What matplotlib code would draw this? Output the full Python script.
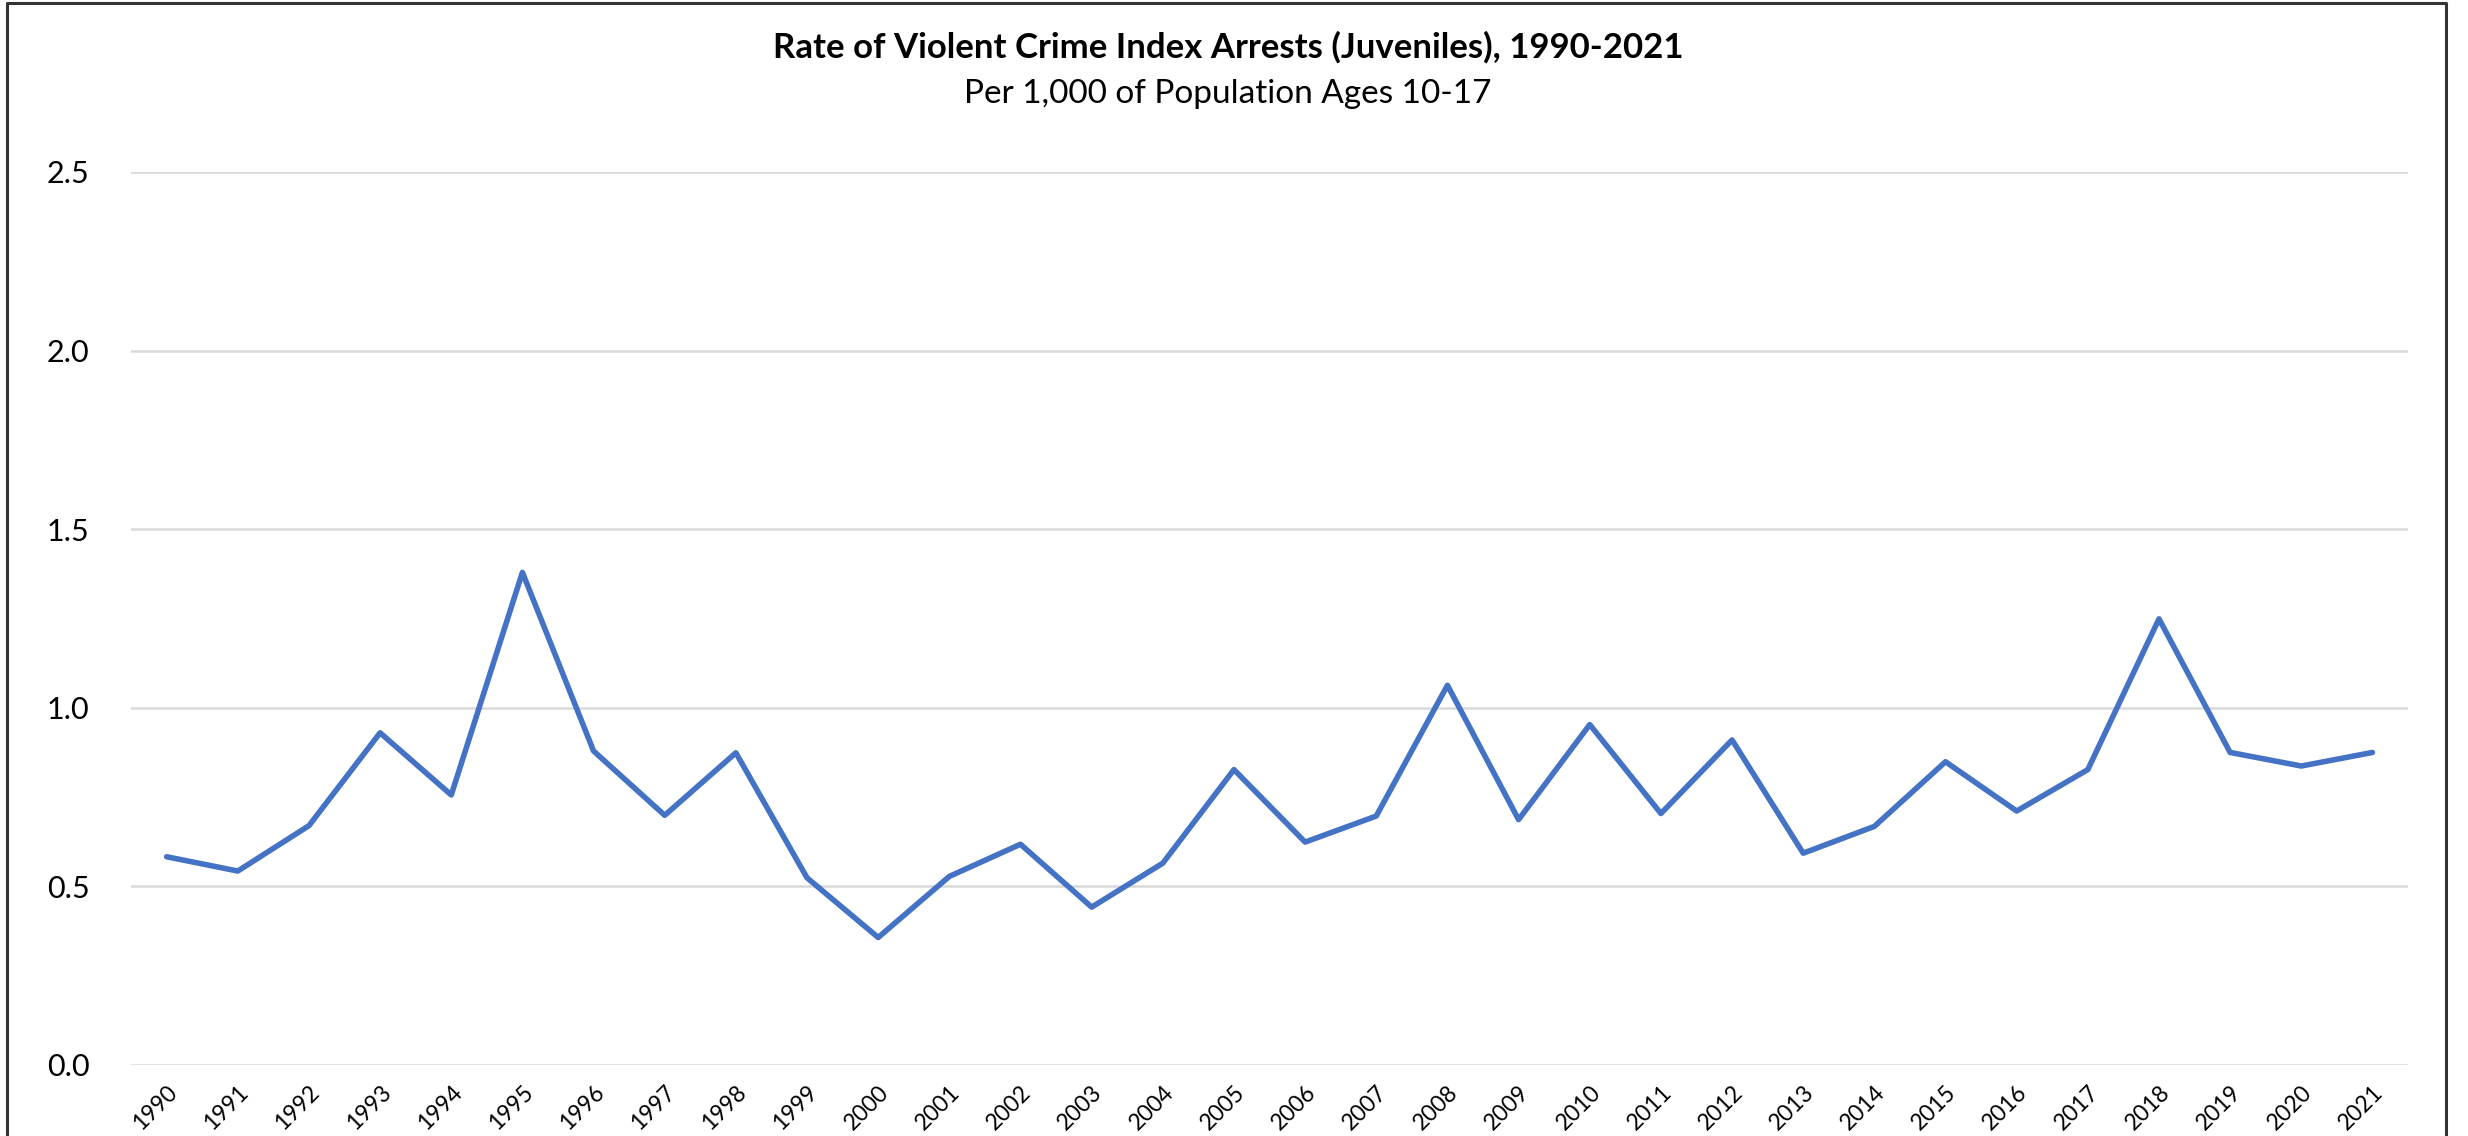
import matplotlib
matplotlib.use("Agg")
from matplotlib import pyplot as plt
from matplotlib.lines import Line2D

plt.rcParams['font.family'] = ['Lato', 'DejaVu Sans']

years = [str(y) for y in range(1990, 2022)]
rates = [0.583, 0.543, 0.670, 0.930, 0.756, 1.379, 0.879, 0.699, 0.874, 0.524,
         0.357, 0.528, 0.618, 0.442, 0.565, 0.827, 0.624, 0.697, 1.063, 0.687,
         0.953, 0.704, 0.910, 0.593, 0.668, 0.849, 0.711, 0.827, 1.249, 0.875,
         0.837, 0.875]
yticks = [0.0, 0.5, 1.0, 1.5, 2.0, 2.5]

fig = plt.figure(figsize=(24.68, 11.36), dpi=100)
ax = fig.add_axes([0.0531, 0.0625, 0.9226, 0.7861])

x = list(range(len(years)))
ax.plot(x, rates, color="#4472C4", lw=4.0, solid_joinstyle="round", solid_capstyle="round", zorder=3)

ax.set_xlim(-0.5, len(years) - 0.5)
ax.set_ylim(0, 2.5)
ax.set_yticks(yticks)
ax.set_yticklabels([f"{v:.1f}" for v in yticks], fontsize=22)
ax.set_xticks(x)
ax.set_xticklabels(years, rotation=45, ha="right", rotation_mode="anchor", fontsize=16.5)
ax.tick_params(axis="y", length=0, pad=30)
ax.tick_params(axis="x", length=0, pad=12)
ax.grid(axis="y", color="#D9D9D9", lw=1.8)
ax.set_axisbelow(True)
for s in ax.spines.values():
    s.set_visible(False)

fig.text(0.4976, 0.958, "Rate of Violent Crime Index Arrests (Juveniles), 1990-2021",
         ha="center", va="center", fontsize=25, fontweight="bold")
fig.text(0.4976, 0.917, "Per 1,000 of Population Ages 10-17",
         ha="center", va="center", fontsize=24)

# outer chart frame (left, top, right)
fig.add_artist(Line2D([0.003, 0.003, 0.991, 0.991], [0.0, 0.997, 0.997, 0.0],
                      transform=fig.transFigure, color="#333333", lw=2.2))

fig.savefig("out.png", dpi=100)
